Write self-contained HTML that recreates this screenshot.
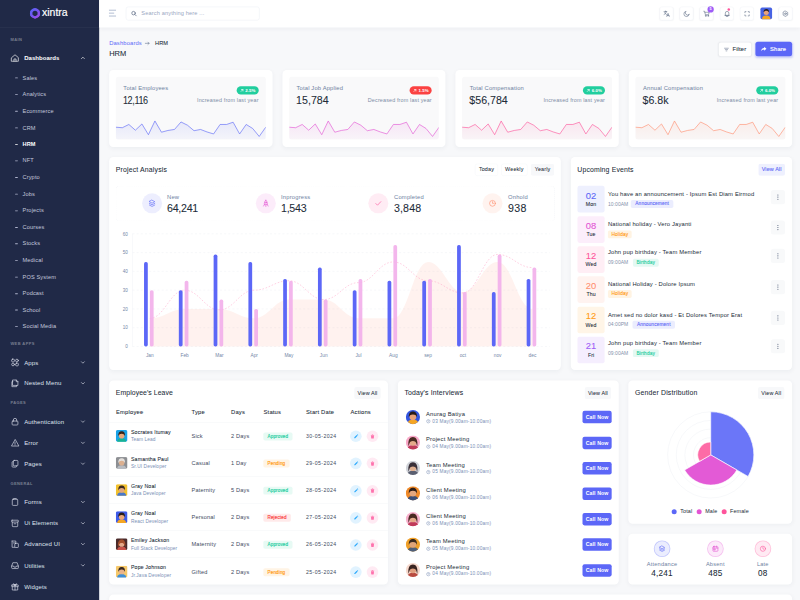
<!DOCTYPE html>
<html lang="en">
<head>
<meta charset="utf-8">
<title>HRM Dashboard</title>
<style>
*{box-sizing:border-box;margin:0;padding:0}
html,body{width:800px;height:600px;overflow:hidden;background:#f7f8fa}
body{font-family:"Liberation Sans",sans-serif;color:#212b37;line-height:1.2}
#page{position:absolute;left:0;top:0;width:1920px;height:1440px;transform:scale(0.4166667);transform-origin:0 0;background:#f7f8fa;font-size:13px;overflow:hidden}
.a{position:absolute;white-space:nowrap}
.vc{transform:translateY(-50%)}
svg{display:block;overflow:visible}
/* sidebar */
#side{position:absolute;left:0;top:0;width:238px;height:1440px;background:#202947;color:#fff}
#side .logo{position:absolute;left:0;top:0;width:238px;height:67px;border-bottom:1px solid rgba(255,255,255,.07)}
#side .cat{position:absolute;left:25px;font-size:9.5px;letter-spacing:1.05px;color:rgba(255,255,255,.4);font-weight:700;transform:translateY(-50%);white-space:nowrap}
#side .mi{position:absolute;left:0;width:238px;height:24px;transform:translateY(-50%);color:#dfe2ee;font-size:14.5px;letter-spacing:.3px}
#side .mi .ic{position:absolute;left:25px;top:1px;width:22px;height:22px}
#side .mi .tx{position:absolute;left:58px;top:4.1px;white-space:nowrap}
#side .mi.on .tx{top:3px}
#side .mi .ch{position:absolute;left:194px;top:7px;width:10px;height:10px}
#side .mi.on{color:#fff}
#side .mi.on .tx{font-weight:700;letter-spacing:.1px}
#side .si{position:absolute;left:54px;font-size:13.5px;letter-spacing:.3px;color:#c3c8dc;transform:translateY(-50%);white-space:nowrap}
#side .si:before{content:"";position:absolute;left:-18px;top:7px;width:7px;height:2px;background:#aeb3cc;border-radius:1px}
#side .si.on{color:#fff;font-weight:700}
#side .si.on:before{background:#fff}
/* header */
#head{position:absolute;left:238px;top:0;width:1682px;height:66px;background:#fff;box-shadow:0 3px 10px rgba(30,40,70,.05)}
.hbtn{position:absolute;top:16px;width:33px;height:33px;border:1px solid #f0f2f8;border-radius:6px;background:#fff;box-shadow:0 1px 3px rgba(30,40,70,.045)}
.hbtn svg{position:absolute;left:7.5px;top:7.5px;width:16px;height:16px}
/* cards */
.card{position:absolute;background:#fff;border-radius:10px;box-shadow:0 3px 10px rgba(30,40,70,.045)}
.ctitle{position:absolute;left:16px;font-size:16.5px;color:#212b37;letter-spacing:.4px;transform:translateY(-50%);white-space:nowrap;-webkit-text-stroke:.12px #212b37}
.btnl{position:absolute;height:28.5px;border:1px solid transparent;border-radius:5px;background:#f7f8fa;color:#212b37;font-size:13px;text-align:center;line-height:26.5px;letter-spacing:.3px;-webkit-text-stroke:.1px #212b37;white-space:nowrap}
.mut{color:#6e829f}
.b5{-webkit-text-stroke:.15px currentColor}

</style>
</head>
<body>
<div id="page">
<div id="side"><div class="logo">
<svg class="a" style="left:70px;top:17.500px;width:28px;height:28px" viewBox="0 0 27 27"><defs><linearGradient id="lg" x1="0" y1="0" x2="1" y2="1"><stop offset="0" stop-color="#5a63f5"/><stop offset=".55" stop-color="#7a55f0"/><stop offset="1" stop-color="#a24de6"/></linearGradient></defs><path d="M13.500 3.800 21.900 8.650v9.700L13.500 23.200 5.100 18.350v-9.700z" fill="none" stroke="url(#lg)" stroke-width="4.800" stroke-linejoin="round"/><circle cx="13.500" cy="13.500" r="9.300" fill="none" stroke="url(#lg)" stroke-width="5"/></svg>
<div class="a" style="left:100.500px;top:14.300px;font-size:26px;letter-spacing:-.1px;color:#fff;-webkit-text-stroke:.45px #fff;transform:scaleX(.97);transform-origin:0 0">xintra</div>
</div>
<div class="cat" style="top:94.1px">MAIN</div>
<div class="mi on" style="top:139.2px"><svg class="ic" viewBox="0 0 22 22" fill="none" stroke="currentColor" stroke-width="1.55" stroke-linecap="round" stroke-linejoin="round"><path d="M3 10.2 11 3.5l8 6.7V19H3z"/><path d="M8.5 19v-5.5h5V19"/></svg><span class="tx">Dashboards</span><svg class="ch" viewBox="0 0 10 10" fill="none" stroke="currentColor" stroke-width="1.5" stroke-linecap="round" stroke-linejoin="round"><path d="M1.500 6.700 5 3.200 8.500 6.700"/></svg></div>
<div class="si" style="top:187.4px">Sales</div>
<div class="si" style="top:227.2px">Analytics</div>
<div class="si" style="top:267.0px">Ecommerce</div>
<div class="si" style="top:306.8px">CRM</div>
<div class="si on" style="top:346.6px">HRM</div>
<div class="si" style="top:386.3px">NFT</div>
<div class="si" style="top:426.1px">Crypto</div>
<div class="si" style="top:465.9px">Jobs</div>
<div class="si" style="top:505.7px">Projects</div>
<div class="si" style="top:545.5px">Courses</div>
<div class="si" style="top:585.2px">Stocks</div>
<div class="si" style="top:625.0px">Medical</div>
<div class="si" style="top:664.8px">POS System</div>
<div class="si" style="top:704.6px">Podcast</div>
<div class="si" style="top:744.4px">School</div>
<div class="si" style="top:784.1px">Social Media</div>
<div class="cat" style="top:823.9px">WEB APPS</div>
<div class="mi" style="top:870.0px"><svg class="ic" viewBox="0 0 22 22" fill="none" stroke="currentColor" stroke-width="1.55" stroke-linecap="round" stroke-linejoin="round"><rect x="3" y="3" width="6.5" height="6.5" rx="2"/><rect x="12.5" y="12.5" width="6.5" height="6.5" rx="2"/><circle cx="15.7" cy="6.3" r="3.3"/><circle cx="6.3" cy="15.7" r="3.3"/></svg><span class="tx">Apps</span><svg class="ch" viewBox="0 0 10 10" fill="none" stroke="currentColor" stroke-width="1.5" stroke-linecap="round" stroke-linejoin="round"><path d="M1.500 3.200 5 6.700 8.500 3.200"/></svg></div>
<div class="mi" style="top:920.4px"><svg class="ic" viewBox="0 0 22 22" fill="none" stroke="currentColor" stroke-width="1.55" stroke-linecap="round" stroke-linejoin="round"><path d="M6 3h8l4 4v9H6z"/><path d="M6 7H3.5v12H15v-3"/><path d="M14 3v4h4"/></svg><span class="tx">Nested Menu</span><svg class="ch" viewBox="0 0 10 10" fill="none" stroke="currentColor" stroke-width="1.5" stroke-linecap="round" stroke-linejoin="round"><path d="M1.500 3.200 5 6.700 8.500 3.200"/></svg></div>
<div class="cat" style="top:966.5px">PAGES</div>
<div class="mi" style="top:1011.6px"><svg class="ic" viewBox="0 0 22 22" fill="none" stroke="currentColor" stroke-width="1.55" stroke-linecap="round" stroke-linejoin="round"><rect x="4" y="9.5" width="14" height="9.5" rx="2"/><path d="M7 9.5V7a4 4 0 0 1 8 0v2.5"/></svg><span class="tx">Authentication</span><svg class="ch" viewBox="0 0 10 10" fill="none" stroke="currentColor" stroke-width="1.5" stroke-linecap="round" stroke-linejoin="round"><path d="M1.500 3.200 5 6.700 8.500 3.200"/></svg></div>
<div class="mi" style="top:1062.5px"><svg class="ic" viewBox="0 0 22 22" fill="none" stroke="currentColor" stroke-width="1.55" stroke-linecap="round" stroke-linejoin="round"><path d="M11 3.5 2.5 18.5h17z"/><path d="M11 9v4.5M11 15.8v.4"/></svg><span class="tx">Error</span><svg class="ch" viewBox="0 0 10 10" fill="none" stroke="currentColor" stroke-width="1.5" stroke-linecap="round" stroke-linejoin="round"><path d="M1.500 3.200 5 6.700 8.500 3.200"/></svg></div>
<div class="mi" style="top:1113.1px"><svg class="ic" viewBox="0 0 22 22" fill="none" stroke="currentColor" stroke-width="1.55" stroke-linecap="round" stroke-linejoin="round"><rect x="7" y="3" width="11" height="13" rx="2"/><path d="M7 6H5.5A1.5 1.5 0 0 0 4 7.5V17.5A1.5 1.5 0 0 0 5.5 19H13A1.5 1.5 0 0 0 14.500 17.5V16"/></svg><span class="tx">Pages</span><svg class="ch" viewBox="0 0 10 10" fill="none" stroke="currentColor" stroke-width="1.5" stroke-linecap="round" stroke-linejoin="round"><path d="M1.500 3.200 5 6.700 8.500 3.200"/></svg></div>
<div class="cat" style="top:1159.7px">GENERAL</div>
<div class="mi" style="top:1204.8px"><svg class="ic" viewBox="0 0 22 22" fill="none" stroke="currentColor" stroke-width="1.55" stroke-linecap="round" stroke-linejoin="round"><rect x="4.500" y="4" width="13" height="15" rx="2"/><path d="M8 4V2.800h6V4"/></svg><span class="tx">Forms</span><svg class="ch" viewBox="0 0 10 10" fill="none" stroke="currentColor" stroke-width="1.5" stroke-linecap="round" stroke-linejoin="round"><path d="M1.500 3.200 5 6.700 8.500 3.200"/></svg></div>
<div class="mi" style="top:1255.7px"><svg class="ic" viewBox="0 0 22 22" fill="none" stroke="currentColor" stroke-width="1.55" stroke-linecap="round" stroke-linejoin="round"><rect x="3" y="3.500" width="16" height="4.500" rx="1"/><path d="M4.500 8v9.500a1.500 1.500 0 0 0 1.500 1.500h10a1.500 1.500 0 0 0 1.500-1.500V8"/><path d="M9 12h4"/></svg><span class="tx">Ui Elements</span><svg class="ch" viewBox="0 0 10 10" fill="none" stroke="currentColor" stroke-width="1.5" stroke-linecap="round" stroke-linejoin="round"><path d="M1.500 3.200 5 6.700 8.500 3.200"/></svg></div>
<div class="mi" style="top:1306.3px"><svg class="ic" viewBox="0 0 22 22" fill="none" stroke="currentColor" stroke-width="1.55" stroke-linecap="round" stroke-linejoin="round"><path d="M4 3.500h9l0 5"/><path d="M4 3.500v15h6"/><rect x="10.500" y="9" width="8.500" height="10" rx="1.500"/><path d="M7 8h3"/></svg><span class="tx">Advanced UI</span><svg class="ch" viewBox="0 0 10 10" fill="none" stroke="currentColor" stroke-width="1.5" stroke-linecap="round" stroke-linejoin="round"><path d="M1.500 3.200 5 6.700 8.500 3.200"/></svg></div>
<div class="mi" style="top:1357.2px"><svg class="ic" viewBox="0 0 22 22" fill="none" stroke="currentColor" stroke-width="1.55" stroke-linecap="round" stroke-linejoin="round"><path d="M3 12.500 5.800 4.500h10.400L19 12.500V17a1.500 1.500 0 0 1-1.500 1.500h-13A1.500 1.500 0 0 1 3 17z"/><path d="M3 12.500h4.500l1 2.500h5l1-2.500H19"/></svg><span class="tx">Utilities</span><svg class="ch" viewBox="0 0 10 10" fill="none" stroke="currentColor" stroke-width="1.5" stroke-linecap="round" stroke-linejoin="round"><path d="M1.500 3.200 5 6.700 8.500 3.200"/></svg></div>
<div class="mi" style="top:1408.3px"><svg class="ic" viewBox="0 0 22 22" fill="none" stroke="currentColor" stroke-width="1.55" stroke-linecap="round" stroke-linejoin="round"><rect x="3" y="7" width="16" height="4" rx="1"/><path d="M4.500 11v8h13v-8M11 7v12"/><path d="M11 7C9 3 5.500 3.500 6.500 5.500S11 7 11 7zM11 7c2-4 5.500-3.500 4.500-1.500S11 7 11 7z"/></svg><span class="tx">Widgets</span></div>
</div><div id="head">
<svg class="a" style="left:24px;top:23px;width:16px;height:17px" viewBox="0 0 16 17" stroke="#9aa8c4" stroke-width="1.8" stroke-linecap="round"><path d="M.5 1.500h15M.5 8.500h10.500M.5 15.500h15"/></svg>
<div class="a" style="left:64px;top:16px;width:321px;height:33px;border:1px solid #e6ebf4;border-radius:6px;background:#fff"></div>
<svg class="a" style="left:77px;top:26px;width:13px;height:13px" viewBox="0 0 13 13" fill="none" stroke="#52617c" stroke-width="1.6" stroke-linecap="round"><circle cx="5.500" cy="5.500" r="4.200"/><path d="M8.800 8.800 12 12"/></svg>
<div class="a vc" style="left:101px;top:33px;font-size:13.5px;color:#9aa7bf;letter-spacing:.35px">Search anything here ...</div>
<div class="hbtn" style="left:1345px"><svg viewBox="0 0 16 16" fill="none" stroke="#4f5f7a" stroke-width="1.25" stroke-linecap="round" stroke-linejoin="round"><path d="M1.500 3h7M5 1.500V3M7.300 3C6.800 6 4.500 8.500 1.800 9.800M3.200 5.500C4 7.500 5.500 9 7.500 9.800"/><path d="M8.300 14.500 11.300 7l3 7.500M9.300 12.300h4"/></svg></div>
<div class="hbtn" style="left:1393px"><svg viewBox="0 0 16 16" fill="none" stroke="#4f5f7a" stroke-width="1.25" stroke-linecap="round" stroke-linejoin="round"><path d="M13.800 9.800A6.300 6.300 0 1 1 6.600 2.200 5.200 5.200 0 0 0 13.800 9.800z"/></svg></div>
<div class="hbtn" style="left:1441px"><svg viewBox="0 0 16 16" fill="none" stroke="#4f5f7a" stroke-width="1.25" stroke-linecap="round" stroke-linejoin="round"><path d="M1 2h2l1.800 8.200h7.600L14 4.500H4"/><circle cx="5.800" cy="13" r="1.100"/><circle cx="11.500" cy="13" r="1.100"/></svg></div>
<div class="hbtn" style="left:1490px"><svg viewBox="0 0 16 16" fill="none" stroke="#4f5f7a" stroke-width="1.25" stroke-linecap="round" stroke-linejoin="round"><path d="M3.800 11.800V6.500a4.200 4.200 0 0 1 8.400 0v5.300z"/><path d="M2.800 11.800h10.400M6.500 14.300h3"/></svg></div>
<div class="hbtn" style="left:1538px"><svg viewBox="0 0 16 16" fill="none" stroke="#4f5f7a" stroke-width="1.25" stroke-linecap="round" stroke-linejoin="round"><path d="M2.800 5.300V2.800h2.500M10.700 2.800h2.500v2.500M13.200 10.700v2.500h-2.500M5.300 13.200H2.800v-2.500"/></svg></div>
<div class="hbtn" style="left:1630.5px"><svg viewBox="0 0 16 16" fill="none" stroke="#4f5f7a" stroke-width="1.25" stroke-linecap="round" stroke-linejoin="round"><circle cx="8" cy="8" r="2.100"/><path d="M8 1.600 13.500 4.800v6.400L8 14.400 2.500 11.200V4.800z"/></svg></div>
<div class="a" style="left:1460px;top:15px;width:15px;height:15px;border-radius:50%;background:#9e5cf7;color:#fff;font-size:9px;font-weight:700;text-align:center;line-height:15px">5</div>
<div class="a" style="left:1508px;top:20px;width:6px;height:6px;border-radius:50%;background:#fe549b"></div>
<svg class="a" style="left:1587px;top:18px;width:28px;height:28px" viewBox="0 0 28 28"><rect width="28" height="28" rx="4" fill="#4763e4"/><path d="M4 28c0-7 4-9 10-9s10 2 10 9z" fill="#f5a623"/><circle cx="14" cy="12" r="6" fill="#e9a27a"/><path d="M7.500 11.500C7 5 11 3.500 14.500 3.500S21 6 20.500 11.500C19 9 17 7.500 14 7.500S9 9 7.500 11.500z" fill="#2a1c1a"/></svg>
</div>
<div class="a vc" style="left:262px;top:104.4px;font-size:14px;letter-spacing:.3px;color:#5c67f7">Dashboards</div>
<svg class="a" style="left:348px;top:100.4px;width:11px;height:8px" viewBox="0 0 11 8" fill="none" stroke="#5a6b85" stroke-width="1.300" stroke-linecap="round" stroke-linejoin="round"><path d="M.8 4h9M7 1.200 9.800 4 7 6.800"/></svg>
<div class="a vc b5" style="left:372px;top:104.4px;font-size:13.5px;letter-spacing:.3px;color:#212b37">HRM</div>
<div class="a vc b5" style="left:262px;top:130.1px;font-size:18px;letter-spacing:0;color:#212b37">HRM</div>
<div class="a" style="left:1725px;top:101.500px;width:78px;height:33px;border-radius:6px;background:#fff;box-shadow:0 1px 4px rgba(30,40,70,.08)"><svg class="a" style="left:13px;top:12px;width:11px;height:10px" viewBox="0 0 12 10" stroke="#7a869c" stroke-width="1.6" stroke-linecap="round"><path d="M1 1.500h10M3 5h6M5 8.500h2"/></svg><div class="a vc b5" style="left:33px;top:16.500px;font-size:14px;letter-spacing:.3px;color:#212b37">Filter</div></div>
<div class="a" style="left:1813px;top:100px;width:88px;height:35px;border-radius:6px;background:#5c67f7;box-shadow:0 2px 5px rgba(92,103,247,.3)"><svg class="a" style="left:13px;top:11px;width:14px;height:13px" viewBox="0 0 14 13" fill="#fff"><path d="M8 1 13.500 6 8 11V8C4.500 8 2.300 9 .5 12 1 7.500 3.500 4.500 8 4z"/></svg><div class="a vc" style="left:35px;top:17.500px;font-size:14px;letter-spacing:.3px;color:#fff;-webkit-text-stroke:.35px #fff">Share</div></div><div class="card" style="left:262.0px;top:168px;width:391.7px;height:184.5px">
<div class="a" style="left:16px;top:15.5px;width:359.7px;height:151.0px;background:#f9f9fa;border-radius:6px;overflow:hidden">
<svg class="a" style="left:0;top:0" width="359.7" height="151.0" viewBox="0 0 359.7 151.0"><defs><linearGradient id="sg0" x1="0" y1="0" x2="0" y2="1"><stop offset="0" stop-color="#5c67f7" stop-opacity=".12"/><stop offset="1" stop-color="#5c67f7" stop-opacity=".03"/></linearGradient></defs><path d="M0.0 121.3 L15.6 122.5 L31.3 114.7 L46.9 128.5 L62.6 113.5 L78.2 139.3 L93.8 106.3 L109.5 133.3 L125.1 129.1 L140.8 126.7 L156.4 108.7 L172.0 116.5 L187.7 129.7 L203.3 126.7 L218.9 132.7 L234.6 137.5 L250.2 114.7 L265.9 114.7 L281.5 109.3 L297.1 137.5 L312.8 114.7 L328.4 124.3 L344.1 143.5 L359.7 121.3 L359.7 151.0 L0 151.0 Z" fill="url(#sg0)"/><path d="M0.0 121.3 L15.6 122.5 L31.3 114.7 L46.9 128.5 L62.6 113.5 L78.2 139.3 L93.8 106.3 L109.5 133.3 L125.1 129.1 L140.8 126.7 L156.4 108.7 L172.0 116.5 L187.7 129.7 L203.3 126.7 L218.9 132.7 L234.6 137.5 L250.2 114.7 L265.9 114.7 L281.5 109.3 L297.1 137.5 L312.8 114.7 L328.4 124.3 L344.1 143.5 L359.7 121.3" fill="none" stroke="#5c67f7" stroke-opacity=".72" stroke-width="2.1" stroke-linejoin="round"/></svg>
<div class="a vc mut" style="left:18px;top:28.19999999999999px;font-size:14px;letter-spacing:.35px">Total Employees</div>
<div class="a vc b5" style="left:17px;top:56.0px;font-size:25.5px;letter-spacing:-1px;color:#212b37;transform:translateY(-50%) scaleX(.85);transform-origin:0 50%;">12,116</div>
<div class="a" style="right:17px;top:23.400000000000006px;width:53px;height:20px;border-radius:10px;background:#21ce9e"><svg class="a" style="left:9px;top:6px;width:8px;height:8px" viewBox="0 0 8 8" stroke="#fff" stroke-width="1.5" fill="none" stroke-linecap="round" stroke-linejoin="round"><path d="M1.500 6.500 6 2M2.500 1.800H6.200V5.500"/></svg><div class="a" style="left:21px;top:4px;font-size:10.5px;font-weight:700;color:#fff;letter-spacing:.1px">2.5%</div></div>
<div class="a vc mut" style="right:17px;top:56.5px;font-size:13px;letter-spacing:.35px;color:#7d8da6">Increased from last year</div>
</div></div>
<div class="card" style="left:677.7px;top:168px;width:391.7px;height:184.5px">
<div class="a" style="left:16px;top:15.5px;width:359.7px;height:151.0px;background:#f9f9fa;border-radius:6px;overflow:hidden">
<svg class="a" style="left:0;top:0" width="359.7" height="151.0" viewBox="0 0 359.7 151.0"><defs><linearGradient id="sg1" x1="0" y1="0" x2="0" y2="1"><stop offset="0" stop-color="#e354d4" stop-opacity=".12"/><stop offset="1" stop-color="#e354d4" stop-opacity=".03"/></linearGradient></defs><path d="M0.0 121.3 L15.6 122.5 L31.3 114.7 L46.9 128.5 L62.6 113.5 L78.2 139.3 L93.8 106.3 L109.5 133.3 L125.1 129.1 L140.8 126.7 L156.4 108.7 L172.0 116.5 L187.7 129.7 L203.3 126.7 L218.9 132.7 L234.6 137.5 L250.2 114.7 L265.9 114.7 L281.5 109.3 L297.1 137.5 L312.8 114.7 L328.4 124.3 L344.1 143.5 L359.7 121.3 L359.7 151.0 L0 151.0 Z" fill="url(#sg1)"/><path d="M0.0 121.3 L15.6 122.5 L31.3 114.7 L46.9 128.5 L62.6 113.5 L78.2 139.3 L93.8 106.3 L109.5 133.3 L125.1 129.1 L140.8 126.7 L156.4 108.7 L172.0 116.5 L187.7 129.7 L203.3 126.7 L218.9 132.7 L234.6 137.5 L250.2 114.7 L265.9 114.7 L281.5 109.3 L297.1 137.5 L312.8 114.7 L328.4 124.3 L344.1 143.5 L359.7 121.3" fill="none" stroke="#e354d4" stroke-opacity=".72" stroke-width="2.1" stroke-linejoin="round"/></svg>
<div class="a vc mut" style="left:18px;top:28.19999999999999px;font-size:14px;letter-spacing:.35px">Total Job Applied</div>
<div class="a vc b5" style="left:17px;top:56.0px;font-size:25.5px;letter-spacing:0px;color:#212b37;">15,784</div>
<div class="a" style="right:17px;top:23.400000000000006px;width:53px;height:20px;border-radius:10px;background:#fb4242"><svg class="a" style="left:9px;top:6px;width:8px;height:8px" viewBox="0 0 8 8" stroke="#fff" stroke-width="1.5" fill="none" stroke-linecap="round" stroke-linejoin="round"><path d="M1.500 6.500 6 2M2.500 1.800H6.200V5.500"/></svg><div class="a" style="left:21px;top:4px;font-size:10.5px;font-weight:700;color:#fff;letter-spacing:.1px">1.5%</div></div>
<div class="a vc mut" style="right:17px;top:56.5px;font-size:13px;letter-spacing:.35px;color:#7d8da6">Decreased from last year</div>
</div></div>
<div class="card" style="left:1093.4px;top:168px;width:391.7px;height:184.5px">
<div class="a" style="left:16px;top:15.5px;width:359.7px;height:151.0px;background:#f9f9fa;border-radius:6px;overflow:hidden">
<svg class="a" style="left:0;top:0" width="359.7" height="151.0" viewBox="0 0 359.7 151.0"><defs><linearGradient id="sg2" x1="0" y1="0" x2="0" y2="1"><stop offset="0" stop-color="#fe549b" stop-opacity=".12"/><stop offset="1" stop-color="#fe549b" stop-opacity=".03"/></linearGradient></defs><path d="M0.0 121.3 L15.6 122.5 L31.3 114.7 L46.9 128.5 L62.6 113.5 L78.2 139.3 L93.8 106.3 L109.5 133.3 L125.1 129.1 L140.8 126.7 L156.4 108.7 L172.0 116.5 L187.7 129.7 L203.3 126.7 L218.9 132.7 L234.6 137.5 L250.2 114.7 L265.9 114.7 L281.5 109.3 L297.1 137.5 L312.8 114.7 L328.4 124.3 L344.1 143.5 L359.7 121.3 L359.7 151.0 L0 151.0 Z" fill="url(#sg2)"/><path d="M0.0 121.3 L15.6 122.5 L31.3 114.7 L46.9 128.5 L62.6 113.5 L78.2 139.3 L93.8 106.3 L109.5 133.3 L125.1 129.1 L140.8 126.7 L156.4 108.7 L172.0 116.5 L187.7 129.7 L203.3 126.7 L218.9 132.7 L234.6 137.5 L250.2 114.7 L265.9 114.7 L281.5 109.3 L297.1 137.5 L312.8 114.7 L328.4 124.3 L344.1 143.5 L359.7 121.3" fill="none" stroke="#fe549b" stroke-opacity=".72" stroke-width="2.1" stroke-linejoin="round"/></svg>
<div class="a vc mut" style="left:18px;top:28.19999999999999px;font-size:14px;letter-spacing:.35px">Total Compensation</div>
<div class="a vc b5" style="left:17px;top:56.0px;font-size:25.5px;letter-spacing:0px;color:#212b37;">$56,784</div>
<div class="a" style="right:17px;top:23.400000000000006px;width:53px;height:20px;border-radius:10px;background:#21ce9e"><svg class="a" style="left:9px;top:6px;width:8px;height:8px" viewBox="0 0 8 8" stroke="#fff" stroke-width="1.5" fill="none" stroke-linecap="round" stroke-linejoin="round"><path d="M1.500 6.500 6 2M2.500 1.800H6.200V5.500"/></svg><div class="a" style="left:21px;top:4px;font-size:10.5px;font-weight:700;color:#fff;letter-spacing:.1px">6.0%</div></div>
<div class="a vc mut" style="right:17px;top:56.5px;font-size:13px;letter-spacing:.35px;color:#7d8da6">Increased from last year</div>
</div></div>
<div class="card" style="left:1509.1px;top:168px;width:391.7px;height:184.5px">
<div class="a" style="left:16px;top:15.5px;width:359.7px;height:151.0px;background:#f9f9fa;border-radius:6px;overflow:hidden">
<svg class="a" style="left:0;top:0" width="359.7" height="151.0" viewBox="0 0 359.7 151.0"><defs><linearGradient id="sg3" x1="0" y1="0" x2="0" y2="1"><stop offset="0" stop-color="#ff8e6f" stop-opacity=".12"/><stop offset="1" stop-color="#ff8e6f" stop-opacity=".03"/></linearGradient></defs><path d="M0.0 121.3 L15.6 122.5 L31.3 114.7 L46.9 128.5 L62.6 113.5 L78.2 139.3 L93.8 106.3 L109.5 133.3 L125.1 129.1 L140.8 126.7 L156.4 108.7 L172.0 116.5 L187.7 129.7 L203.3 126.7 L218.9 132.7 L234.6 137.5 L250.2 114.7 L265.9 114.7 L281.5 109.3 L297.1 137.5 L312.8 114.7 L328.4 124.3 L344.1 143.5 L359.7 121.3 L359.7 151.0 L0 151.0 Z" fill="url(#sg3)"/><path d="M0.0 121.3 L15.6 122.5 L31.3 114.7 L46.9 128.5 L62.6 113.5 L78.2 139.3 L93.8 106.3 L109.5 133.3 L125.1 129.1 L140.8 126.7 L156.4 108.7 L172.0 116.5 L187.7 129.7 L203.3 126.7 L218.9 132.7 L234.6 137.5 L250.2 114.7 L265.9 114.7 L281.5 109.3 L297.1 137.5 L312.8 114.7 L328.4 124.3 L344.1 143.5 L359.7 121.3" fill="none" stroke="#ff8e6f" stroke-opacity=".72" stroke-width="2.1" stroke-linejoin="round"/></svg>
<div class="a vc mut" style="left:18px;top:28.19999999999999px;font-size:14px;letter-spacing:.35px">Annual Compensation</div>
<div class="a vc b5" style="left:17px;top:56.0px;font-size:25.5px;letter-spacing:0px;color:#212b37;">$6.8k</div>
<div class="a" style="right:17px;top:23.400000000000006px;width:53px;height:20px;border-radius:10px;background:#21ce9e"><svg class="a" style="left:9px;top:6px;width:8px;height:8px" viewBox="0 0 8 8" stroke="#fff" stroke-width="1.5" fill="none" stroke-linecap="round" stroke-linejoin="round"><path d="M1.500 6.500 6 2M2.500 1.800H6.200V5.500"/></svg><div class="a" style="left:21px;top:4px;font-size:10.5px;font-weight:700;color:#fff;letter-spacing:.1px">6.0%</div></div>
<div class="a vc mut" style="right:17px;top:56.5px;font-size:13px;letter-spacing:.35px;color:#7d8da6">Increased from last year</div>
</div></div><div class="card" style="left:262px;top:377px;width:1083.5px;height:511px">
<div class="ctitle" style="top:29.80000000000001px">Project Analysis</div>
<div class="btnl" style="left:878.2px;top:16.100000000000023px;width:54.5px;background:#fff;border:1px solid #f3f5f8;">Today</div>
<div class="btnl" style="left:941.0999999999999px;top:16.100000000000023px;width:62.6px;background:#fff;border:1px solid #f3f5f8;">Weekly</div>
<div class="btnl" style="left:1011.9000000000001px;top:16.100000000000023px;width:56.2px;background:#f7f8fa;">Yearly</div>
<div class="a" style="left:16.399999999999977px;top:68.89999999999998px;width:1052.4px;height:85.2px;border:1px dashed #eef0f4;border-radius:8px"></div>
<div class="a" style="left:78.80000000000001px;top:86.89999999999998px;width:48px;height:48px;border-radius:50%;background:rgba(92,103,247,0.11)"><svg class="a" style="left:14px;top:14px;width:20px;height:20px" viewBox="0 0 20 20" fill="none" stroke="#5c67f7" stroke-width="1.5" stroke-linecap="round" stroke-linejoin="round"><path d="M10 2.500 16.500 6 10 9.500 3.500 6z"/><path d="M3.500 10 10 13.500 16.500 10"/><path d="M3.500 14 10 17.500 16.500 14"/></svg></div>
<div class="a vc mut" style="left:138.8px;top:96.30000000000001px;font-size:14px;letter-spacing:.45px">New</div>
<div class="a vc b5" style="left:138.8px;top:122.89999999999998px;font-size:25.5px;letter-spacing:-0.6px;color:#212b37">64,241</div>
<div class="a" style="left:352.4px;top:86.89999999999998px;width:48px;height:48px;border-radius:50%;background:rgba(227,84,212,0.11)"><svg class="a" style="left:14px;top:14px;width:20px;height:20px" viewBox="0 0 20 20" fill="none" stroke="#e354d4" stroke-width="1.5" stroke-linecap="round" stroke-linejoin="round"><path d="M10 2.500c3 2.500 4 6 3.500 10.500h-7C6 8.500 7 5 10 2.500z"/><circle cx="10" cy="8.500" r="1.300"/><path d="M6.500 13 4.500 16.500M13.500 13l2 3.500M10 15v2.500"/></svg></div>
<div class="a vc mut" style="left:412.4px;top:96.30000000000001px;font-size:14px;letter-spacing:.45px">Inprogress</div>
<div class="a vc b5" style="left:412.4px;top:122.89999999999998px;font-size:25.5px;letter-spacing:-0.6px;color:#212b37">1,543</div>
<div class="a" style="left:622.4px;top:86.89999999999998px;width:48px;height:48px;border-radius:50%;background:rgba(254,84,155,0.11)"><svg class="a" style="left:14px;top:14px;width:20px;height:20px" viewBox="0 0 20 20" fill="none" stroke="#fe549b" stroke-width="1.5" stroke-linecap="round" stroke-linejoin="round"><path d="M4 10.500 8 14.500 16 6"/></svg></div>
<div class="a vc mut" style="left:683.6px;top:96.30000000000001px;font-size:14px;letter-spacing:.45px">Completed</div>
<div class="a vc b5" style="left:683.6px;top:122.89999999999998px;font-size:25.5px;letter-spacing:0.3px;color:#212b37">3,848</div>
<div class="a" style="left:896.0px;top:86.89999999999998px;width:48px;height:48px;border-radius:50%;background:rgba(255,142,111,0.11)"><svg class="a" style="left:14px;top:14px;width:20px;height:20px" viewBox="0 0 20 20" fill="none" stroke="#ff8e6f" stroke-width="1.5" stroke-linecap="round" stroke-linejoin="round"><circle cx="10" cy="10" r="7"/><path d="M10 6v4h3.200"/></svg></div>
<div class="a vc mut" style="left:957.2px;top:96.30000000000001px;font-size:14px;letter-spacing:.45px">Onhold</div>
<div class="a vc b5" style="left:957.2px;top:122.89999999999998px;font-size:25.5px;letter-spacing:0.9px;color:#212b37">938</div>
<svg class="a" style="left:0;top:0" width="1083.5" height="511" viewBox="0 0 1083.5 511"><line x1="55.8" x2="1057.5" y1="454.6" y2="454.6" stroke="#f0f2f6" stroke-width="1.3" stroke-dasharray="5 5"/><line x1="55.8" x2="1057.5" y1="409.5" y2="409.5" stroke="#f0f2f6" stroke-width="1.3" stroke-dasharray="5 5"/><line x1="55.8" x2="1057.5" y1="364.4" y2="364.4" stroke="#f0f2f6" stroke-width="1.3" stroke-dasharray="5 5"/><line x1="55.8" x2="1057.5" y1="319.4" y2="319.4" stroke="#f0f2f6" stroke-width="1.3" stroke-dasharray="5 5"/><line x1="55.8" x2="1057.5" y1="274.3" y2="274.3" stroke="#f0f2f6" stroke-width="1.3" stroke-dasharray="5 5"/><line x1="55.8" x2="1057.5" y1="229.2" y2="229.2" stroke="#f0f2f6" stroke-width="1.3" stroke-dasharray="5 5"/><line x1="55.8" x2="1057.5" y1="184.1" y2="184.1" stroke="#f0f2f6" stroke-width="1.3" stroke-dasharray="5 5"/><line x1="55.8" x2="55.8" y1="184.1" y2="454.6" stroke="#f0f2f6" stroke-width="1.3"/><path d="M97.5 387.0 C132.6 387.0 146.0 364.4 181.0 364.4 C216.1 364.4 229.4 364.4 264.5 364.4 C299.5 364.4 312.9 387.0 348.0 387.0 C383.0 387.0 396.4 341.9 431.4 341.9 C466.5 341.9 479.9 341.9 514.9 341.9 C550.0 341.9 563.3 387.0 598.4 387.0 C633.4 387.0 646.8 387.0 681.9 387.0 C716.9 387.0 730.3 251.7 765.3 251.7 C800.4 251.7 813.8 323.9 848.8 323.9 C883.9 323.9 897.2 251.7 932.3 251.7 C967.3 251.7 980.7 364.4 1015.8 364.4 L1015.8 454.6 L97.5 454.6 Z" fill="#ff8e6f" fill-opacity=".115"/><path d="M97.5 387.0 C132.6 387.0 146.0 319.4 181.0 319.4 C216.1 319.4 229.4 366.7 264.5 366.7 C299.5 366.7 312.9 319.4 348.0 319.4 C383.0 319.4 396.4 296.8 431.4 296.8 C466.5 296.8 479.9 341.9 514.9 341.9 C550.0 341.9 563.3 301.3 598.4 301.3 C633.4 301.3 646.8 251.7 681.9 251.7 C716.9 251.7 730.3 296.8 765.3 296.8 C800.4 296.8 813.8 326.1 848.8 326.1 C883.9 326.1 897.2 233.7 932.3 233.7 C967.3 233.7 980.7 265.2 1015.8 265.2" fill="none" stroke="#fe8fbc" stroke-opacity=".55" stroke-width="1.8" stroke-dasharray="4 4"/><rect x="83.7" y="251.7" width="9" height="202.9" rx="4" fill="#5c67f7"/><rect x="97.7" y="319.4" width="9" height="135.2" rx="4" fill="#f2aeea" fill-opacity=".9"/><rect x="167.2" y="319.4" width="9" height="135.2" rx="4" fill="#5c67f7"/><rect x="181.2" y="296.8" width="9" height="157.8" rx="4" fill="#f2aeea" fill-opacity=".9"/><rect x="250.7" y="233.7" width="9" height="220.9" rx="4" fill="#5c67f7"/><rect x="264.7" y="341.9" width="9" height="112.7" rx="4" fill="#f2aeea" fill-opacity=".9"/><rect x="334.2" y="251.7" width="9" height="202.9" rx="4" fill="#5c67f7"/><rect x="348.2" y="364.4" width="9" height="90.2" rx="4" fill="#f2aeea" fill-opacity=".9"/><rect x="417.6" y="292.3" width="9" height="162.3" rx="4" fill="#5c67f7"/><rect x="431.6" y="296.8" width="9" height="157.8" rx="4" fill="#f2aeea" fill-opacity=".9"/><rect x="501.1" y="265.2" width="9" height="189.4" rx="4" fill="#5c67f7"/><rect x="515.1" y="341.9" width="9" height="112.7" rx="4" fill="#f2aeea" fill-opacity=".9"/><rect x="584.6" y="319.4" width="9" height="135.2" rx="4" fill="#5c67f7"/><rect x="598.6" y="292.3" width="9" height="162.3" rx="4" fill="#f2aeea" fill-opacity=".9"/><rect x="668.1" y="296.8" width="9" height="157.8" rx="4" fill="#5c67f7"/><rect x="682.1" y="211.2" width="9" height="243.4" rx="4" fill="#f2aeea" fill-opacity=".9"/><rect x="751.5" y="296.8" width="9" height="157.8" rx="4" fill="#5c67f7"/><rect x="765.5" y="292.3" width="9" height="162.3" rx="4" fill="#f2aeea" fill-opacity=".9"/><rect x="835.0" y="211.2" width="9" height="243.4" rx="4" fill="#5c67f7"/><rect x="849.0" y="323.9" width="9" height="130.7" rx="4" fill="#f2aeea" fill-opacity=".9"/><rect x="918.5" y="323.9" width="9" height="130.7" rx="4" fill="#5c67f7"/><rect x="932.5" y="233.7" width="9" height="220.9" rx="4" fill="#f2aeea" fill-opacity=".9"/><rect x="1002.0" y="292.3" width="9" height="162.3" rx="4" fill="#5c67f7"/><rect x="1016.0" y="265.2" width="9" height="189.4" rx="4" fill="#f2aeea" fill-opacity=".9"/></svg>
<div class="a vc" style="right:1038.8px;top:455.1px;font-size:11px;color:#7387a8">0</div>
<div class="a vc" style="right:1038.8px;top:410.0px;font-size:11px;color:#7387a8">10</div>
<div class="a vc" style="right:1038.8px;top:364.9px;font-size:11px;color:#7387a8">20</div>
<div class="a vc" style="right:1038.8px;top:319.9px;font-size:11px;color:#7387a8">30</div>
<div class="a vc" style="right:1038.8px;top:274.8px;font-size:11px;color:#7387a8">40</div>
<div class="a vc" style="right:1038.8px;top:229.7px;font-size:11px;color:#7387a8">50</div>
<div class="a vc" style="right:1038.8px;top:184.6px;font-size:11px;color:#7387a8">60</div>
<div class="a vc" style="left:77.5px;width:40px;text-align:center;top:475.70000000000005px;font-size:11.5px;color:#7387a8">Jan</div>
<div class="a vc" style="left:161.0px;width:40px;text-align:center;top:475.70000000000005px;font-size:11.5px;color:#7387a8">Feb</div>
<div class="a vc" style="left:244.5px;width:40px;text-align:center;top:475.70000000000005px;font-size:11.5px;color:#7387a8">Mar</div>
<div class="a vc" style="left:328.0px;width:40px;text-align:center;top:475.70000000000005px;font-size:11.5px;color:#7387a8">Apr</div>
<div class="a vc" style="left:411.4px;width:40px;text-align:center;top:475.70000000000005px;font-size:11.5px;color:#7387a8">May</div>
<div class="a vc" style="left:494.9px;width:40px;text-align:center;top:475.70000000000005px;font-size:11.5px;color:#7387a8">Jun</div>
<div class="a vc" style="left:578.4px;width:40px;text-align:center;top:475.70000000000005px;font-size:11.5px;color:#7387a8">Jul</div>
<div class="a vc" style="left:661.9px;width:40px;text-align:center;top:475.70000000000005px;font-size:11.5px;color:#7387a8">Aug</div>
<div class="a vc" style="left:745.3px;width:40px;text-align:center;top:475.70000000000005px;font-size:11.5px;color:#7387a8">sep</div>
<div class="a vc" style="left:828.8px;width:40px;text-align:center;top:475.70000000000005px;font-size:11.5px;color:#7387a8">oct</div>
<div class="a vc" style="left:912.3px;width:40px;text-align:center;top:475.70000000000005px;font-size:11.5px;color:#7387a8">nov</div>
<div class="a vc" style="left:995.8px;width:40px;text-align:center;top:475.70000000000005px;font-size:11.5px;color:#7387a8">dec</div>
</div>
<div class="card" style="left:1369.5px;top:377px;width:531.3px;height:511px">
<div class="ctitle" style="top:29.80000000000001px">Upcoming Events</div>
<div class="btnl" style="left:450.20000000000005px;top:16.100000000000023px;width:64.3px;background:rgba(92,103,247,.1);color:#5c67f7;-webkit-text-stroke:.25px #5c67f7">View All</div>
<div class="a" style="left:16.5px;top:69.4px;width:65px;height:64px;border-radius:5px;background:rgba(92,103,247,0.1)"><div class="a" style="left:0;width:65px;text-align:center;top:9.5px;font-size:22.5px;color:#5c67f7;letter-spacing:.3px;-webkit-text-stroke:.2px #5c67f7">02</div><div class="a b5" style="left:0;width:65px;text-align:center;top:37px;font-size:12.5px;color:#212b37;letter-spacing:.2px">Mon</div></div>
<div class="a vc" style="left:89.70000000000005px;top:88.9px;font-size:14px;letter-spacing:.37px;color:#212b37">You have an announcement - Ipsum Est Diam Eirmod</div>
<div class="a vc mut" style="left:89.70000000000005px;top:112.9px;font-size:12px;letter-spacing:.1px;color:#8593ab">10:00AM</div>
<div class="a" style="left:144.70000000000005px;top:103.4px;width:102px;height:19px;border-radius:4px;background:rgba(92,103,247,0.12);color:#5c67f7;font-size:11.5px;text-align:center;line-height:19px;letter-spacing:.3px;-webkit-text-stroke:.25px #5c67f7">Announcement</div>
<div class="a" style="left:480.9000000000001px;top:79.4px;width:34px;height:34px;border-radius:6px;background:#f8f9fa"><svg class="a" style="left:15px;top:10px;width:4px;height:14px" viewBox="0 0 4 14" fill="#4a5873"><circle cx="2" cy="2" r="1.300"/><circle cx="2" cy="7" r="1.300"/><circle cx="2" cy="12" r="1.300"/></svg></div>
<div class="a" style="left:16.5px;top:141.7px;width:65px;height:64px;border-radius:5px;background:rgba(227,84,212,0.1)"><div class="a" style="left:0;width:65px;text-align:center;top:9.5px;font-size:22.5px;color:#e354d4;letter-spacing:.3px;-webkit-text-stroke:.2px #e354d4">08</div><div class="a b5" style="left:0;width:65px;text-align:center;top:37px;font-size:12.5px;color:#212b37;letter-spacing:.2px">Tue</div></div>
<div class="a vc" style="left:89.70000000000005px;top:161.2px;font-size:14px;letter-spacing:.37px;color:#212b37">National holiday - Vero Jayanti</div>
<div class="a" style="left:89.70000000000005px;top:175.7px;width:57px;height:19px;border-radius:4px;background:rgba(255,154,19,0.12);color:#ff9a13;font-size:11.5px;text-align:center;line-height:19px;letter-spacing:.3px;-webkit-text-stroke:.25px #ff9a13">Holiday</div>
<div class="a" style="left:480.9000000000001px;top:151.7px;width:34px;height:34px;border-radius:6px;background:#f8f9fa"><svg class="a" style="left:15px;top:10px;width:4px;height:14px" viewBox="0 0 4 14" fill="#4a5873"><circle cx="2" cy="2" r="1.300"/><circle cx="2" cy="7" r="1.300"/><circle cx="2" cy="12" r="1.300"/></svg></div>
<div class="a" style="left:16.5px;top:214.0px;width:65px;height:64px;border-radius:5px;background:rgba(254,84,155,0.1)"><div class="a" style="left:0;width:65px;text-align:center;top:9.5px;font-size:22.5px;color:#fe549b;letter-spacing:.3px;-webkit-text-stroke:.2px #fe549b">12</div><div class="a b5" style="left:0;width:65px;text-align:center;top:37px;font-size:12.5px;color:#212b37;letter-spacing:.2px">Wed</div></div>
<div class="a vc" style="left:89.70000000000005px;top:229.3px;font-size:14px;letter-spacing:.37px;color:#212b37">John pup birthday - Team Member</div>
<div class="a vc mut" style="left:89.70000000000005px;top:253.3px;font-size:12px;letter-spacing:.1px;color:#8593ab">09:00AM</div>
<div class="a" style="left:149.20000000000005px;top:243.8px;width:62px;height:19px;border-radius:4px;background:rgba(33,206,158,0.12);color:#21ce9e;font-size:11.5px;text-align:center;line-height:19px;letter-spacing:.3px;-webkit-text-stroke:.25px #21ce9e">Birthday</div>
<div class="a" style="left:480.9000000000001px;top:219.8px;width:34px;height:34px;border-radius:6px;background:#f8f9fa"><svg class="a" style="left:15px;top:10px;width:4px;height:14px" viewBox="0 0 4 14" fill="#4a5873"><circle cx="2" cy="2" r="1.300"/><circle cx="2" cy="7" r="1.300"/><circle cx="2" cy="12" r="1.300"/></svg></div>
<div class="a" style="left:16.5px;top:286.3px;width:65px;height:64px;border-radius:5px;background:rgba(255,142,111,0.1)"><div class="a" style="left:0;width:65px;text-align:center;top:9.5px;font-size:22.5px;color:#ff8e6f;letter-spacing:.3px;-webkit-text-stroke:.2px #ff8e6f">20</div><div class="a b5" style="left:0;width:65px;text-align:center;top:37px;font-size:12.5px;color:#212b37;letter-spacing:.2px">Thu</div></div>
<div class="a vc" style="left:89.70000000000005px;top:304.6px;font-size:14px;letter-spacing:.37px;color:#212b37">National Holiday - Dolore Ipsum</div>
<div class="a" style="left:89.70000000000005px;top:319.1px;width:57px;height:19px;border-radius:4px;background:rgba(255,154,19,0.12);color:#ff9a13;font-size:11.5px;text-align:center;line-height:19px;letter-spacing:.3px;-webkit-text-stroke:.25px #ff9a13">Holiday</div>
<div class="a" style="left:480.9000000000001px;top:295.1px;width:34px;height:34px;border-radius:6px;background:#f8f9fa"><svg class="a" style="left:15px;top:10px;width:4px;height:14px" viewBox="0 0 4 14" fill="#4a5873"><circle cx="2" cy="2" r="1.300"/><circle cx="2" cy="7" r="1.300"/><circle cx="2" cy="12" r="1.300"/></svg></div>
<div class="a" style="left:16.5px;top:358.6px;width:65px;height:64px;border-radius:5px;background:rgba(255,154,19,0.1)"><div class="a" style="left:0;width:65px;text-align:center;top:9.5px;font-size:22.5px;color:#ff9a13;letter-spacing:.3px;-webkit-text-stroke:.2px #ff9a13">12</div><div class="a b5" style="left:0;width:65px;text-align:center;top:37px;font-size:12.5px;color:#212b37;letter-spacing:.2px">Wed</div></div>
<div class="a vc" style="left:89.70000000000005px;top:378.1px;font-size:14px;letter-spacing:.37px;color:#212b37">Amet sed no dolor kasd - Et Dolores Tempor Erat</div>
<div class="a vc mut" style="left:89.70000000000005px;top:402.1px;font-size:12px;letter-spacing:.1px;color:#8593ab">04:00PM</div>
<div class="a" style="left:148.50000000000006px;top:392.6px;width:102px;height:19px;border-radius:4px;background:rgba(92,103,247,0.12);color:#5c67f7;font-size:11.5px;text-align:center;line-height:19px;letter-spacing:.3px;-webkit-text-stroke:.25px #5c67f7">Announcement</div>
<div class="a" style="left:480.9000000000001px;top:368.6px;width:34px;height:34px;border-radius:6px;background:#f8f9fa"><svg class="a" style="left:15px;top:10px;width:4px;height:14px" viewBox="0 0 4 14" fill="#4a5873"><circle cx="2" cy="2" r="1.300"/><circle cx="2" cy="7" r="1.300"/><circle cx="2" cy="12" r="1.300"/></svg></div>
<div class="a" style="left:16.5px;top:430.9px;width:65px;height:64px;border-radius:5px;background:rgba(158,92,247,0.1)"><div class="a" style="left:0;width:65px;text-align:center;top:9.5px;font-size:22.5px;color:#9e5cf7;letter-spacing:.3px;-webkit-text-stroke:.2px #9e5cf7">21</div><div class="a b5" style="left:0;width:65px;text-align:center;top:37px;font-size:12.5px;color:#212b37;letter-spacing:.2px">Fri</div></div>
<div class="a vc" style="left:89.70000000000005px;top:446.2px;font-size:14px;letter-spacing:.37px;color:#212b37">John pup birthday - Team Member</div>
<div class="a vc mut" style="left:89.70000000000005px;top:470.2px;font-size:12px;letter-spacing:.1px;color:#8593ab">09:00AM</div>
<div class="a" style="left:149.20000000000005px;top:460.7px;width:62px;height:19px;border-radius:4px;background:rgba(33,206,158,0.12);color:#21ce9e;font-size:11.5px;text-align:center;line-height:19px;letter-spacing:.3px;-webkit-text-stroke:.25px #21ce9e">Birthday</div>
<div class="a" style="left:480.9000000000001px;top:436.7px;width:34px;height:34px;border-radius:6px;background:#f8f9fa"><svg class="a" style="left:15px;top:10px;width:4px;height:14px" viewBox="0 0 4 14" fill="#4a5873"><circle cx="2" cy="2" r="1.300"/><circle cx="2" cy="7" r="1.300"/><circle cx="2" cy="12" r="1.300"/></svg></div>
</div><div class="card" style="left:262px;top:913px;width:668.5px;height:489.5px">
<div class="ctitle" style="top:30.200000000000045px;letter-spacing:.15px">Employee's Leave</div>
<div class="btnl" style="left:587.6px;top:16.299999999999955px;width:64.8px">View All</div>
<div class="a vc" style="left:16.399999999999977px;top:75.79999999999995px;font-size:14px;letter-spacing:.45px;color:#212b37;-webkit-text-stroke:.15px #212b37">Employee</div>
<div class="a vc" style="left:197.60000000000002px;top:75.79999999999995px;font-size:14px;letter-spacing:.45px;color:#212b37;-webkit-text-stroke:.15px #212b37">Type</div>
<div class="a vc" style="left:292.4px;top:75.79999999999995px;font-size:14px;letter-spacing:.45px;color:#212b37;-webkit-text-stroke:.15px #212b37">Days</div>
<div class="a vc" style="left:370.4px;top:75.79999999999995px;font-size:14px;letter-spacing:.45px;color:#212b37;-webkit-text-stroke:.15px #212b37">Status</div>
<div class="a vc" style="left:472.4px;top:75.79999999999995px;font-size:14px;letter-spacing:.45px;color:#212b37;-webkit-text-stroke:.15px #212b37">Start Date</div>
<div class="a vc" style="left:579.2px;top:75.79999999999995px;font-size:14px;letter-spacing:.45px;color:#212b37;-webkit-text-stroke:.15px #212b37">Actions</div>
<div class="a" style="left:0;top:99.6px;width:668.5px;height:1px;background:#f1f3f6"></div>
<div class="a" style="left:15.899999999999977px;top:118.7px;width:28px;height:28px"><svg width="28" height="28" viewBox="0 0 28 28"><defs><clipPath id="c1ba3e8280"><rect width="28" height="28" rx="4.0"/></clipPath></defs><g clip-path="url(#c1ba3e8280)"><rect width="28" height="28" fill="#1ba3e8"/><path d="M3 29c0-7 4.500-9.500 11-9.500S25 22 25 29z" fill="#19b394"/><circle cx="14" cy="13.500" r="6.800" fill="#e8a87c"/><path d="M6 15C5 6 9.500 3 14 3s9 3 8 12c-1-3.500-3-6-8-6s-7 2.500-8 6z" fill="#3a2418"/></g></svg></div>
<div class="a vc" style="left:52.39999999999998px;top:123.7px;font-size:12.5px;letter-spacing:.35px;color:#212b37;-webkit-text-stroke:.15px #212b37">Socrates Itumay</div>
<div class="a vc" style="left:52.39999999999998px;top:142.2px;font-size:11.5px;letter-spacing:.25px;color:#7a8fb5">Team Lead</div>
<div class="a vc" style="left:197.60000000000002px;top:133.7px;font-size:13.5px;letter-spacing:.4px;color:#3d4a60">Sick</div>
<div class="a vc" style="left:292.4px;top:133.7px;font-size:13.5px;letter-spacing:.4px;color:#3d4a60">2 Days</div>
<div class="a" style="left:369.9px;top:124.7px;width:70px;height:19px;border-radius:4px;background:rgba(33,206,158,0.11);color:#21ce9e;font-size:11px;text-align:center;line-height:19px;letter-spacing:.3px;-webkit-text-stroke:.35px #21ce9e">Approved</div>
<div class="a vc" style="left:472.4px;top:133.7px;font-size:12.5px;letter-spacing:.95px;color:#3d4a60">30-05-2024</div>
<div class="a" style="left:578.4px;top:120.2px;width:28px;height:28px;border-radius:50%;background:rgba(12,156,252,.12)"><svg class="a" style="left:8.500px;top:8.500px;width:11px;height:11px" viewBox="0 0 12 12" fill="#0c9cfc" fill-opacity=".85"><path d="M1.500 8.200 7.600 2.100l2.300 2.300L3.800 10.500H1.500zM8.300 1.400l.800-.8a.8.800 0 0 1 1.100 0l1.200 1.200a.8.800 0 0 1 0 1.100l-.8.8z"/></svg></div>
<div class="a" style="left:617.5px;top:120.2px;width:28px;height:28px;border-radius:50%;background:rgba(254,84,155,.12)"><svg class="a" style="left:9px;top:8.500px;width:10px;height:11px" viewBox="0 0 11 12" fill="#fe549b" fill-opacity=".8"><path d="M1.500 3.500h8l-.6 7.300a1 1 0 0 1-1 .9H3.100a1 1 0 0 1-1-.9zM.8 2h9.400v.9H.8zM3.800.6h3.400V2H3.800z"/></svg></div>
<div class="a" style="left:0;top:164.7px;width:668.5px;height:1px;background:#f1f3f6"></div>
<div class="a" style="left:15.899999999999977px;top:183.8px;width:28px;height:28px"><svg width="28" height="28" viewBox="0 0 28 28"><defs><clipPath id="c8d8f93280"><rect width="28" height="28" rx="4.0"/></clipPath></defs><g clip-path="url(#c8d8f93280)"><rect width="28" height="28" fill="#8d8f93"/><path d="M3 29c0-7 4.500-9.500 11-9.500S25 22 25 29z" fill="#b8bcc2"/><circle cx="14" cy="13.500" r="6.800" fill="#dcb090"/><path d="M6 15C5 6 9.500 3 14 3s9 3 8 12c-1-3.500-3-6-8-6s-7 2.500-8 6z" fill="#e4e0dc"/></g></svg></div>
<div class="a vc" style="left:52.39999999999998px;top:188.8px;font-size:12.5px;letter-spacing:.35px;color:#212b37;-webkit-text-stroke:.15px #212b37">Samantha Paul</div>
<div class="a vc" style="left:52.39999999999998px;top:207.3px;font-size:11.5px;letter-spacing:.25px;color:#7a8fb5">Sr.UI Developer</div>
<div class="a vc" style="left:197.60000000000002px;top:198.8px;font-size:13.5px;letter-spacing:.4px;color:#3d4a60">Casual</div>
<div class="a vc" style="left:292.4px;top:198.8px;font-size:13.5px;letter-spacing:.4px;color:#3d4a60">1 Day</div>
<div class="a" style="left:369.9px;top:189.8px;width:63px;height:19px;border-radius:4px;background:rgba(255,154,19,0.11);color:#ff9a13;font-size:11px;text-align:center;line-height:19px;letter-spacing:.3px;-webkit-text-stroke:.35px #ff9a13">Pending</div>
<div class="a vc" style="left:472.4px;top:198.8px;font-size:12.5px;letter-spacing:.95px;color:#3d4a60">29-05-2024</div>
<div class="a" style="left:578.4px;top:185.3px;width:28px;height:28px;border-radius:50%;background:rgba(12,156,252,.12)"><svg class="a" style="left:8.500px;top:8.500px;width:11px;height:11px" viewBox="0 0 12 12" fill="#0c9cfc" fill-opacity=".85"><path d="M1.500 8.200 7.600 2.100l2.300 2.300L3.800 10.500H1.500zM8.300 1.400l.800-.8a.8.800 0 0 1 1.100 0l1.200 1.200a.8.800 0 0 1 0 1.100l-.8.8z"/></svg></div>
<div class="a" style="left:617.5px;top:185.3px;width:28px;height:28px;border-radius:50%;background:rgba(254,84,155,.12)"><svg class="a" style="left:9px;top:8.500px;width:10px;height:11px" viewBox="0 0 11 12" fill="#fe549b" fill-opacity=".8"><path d="M1.500 3.500h8l-.6 7.300a1 1 0 0 1-1 .9H3.100a1 1 0 0 1-1-.9zM.8 2h9.400v.9H.8zM3.800.6h3.400V2H3.800z"/></svg></div>
<div class="a" style="left:0;top:229.9px;width:668.5px;height:1px;background:#f1f3f6"></div>
<div class="a" style="left:15.899999999999977px;top:249.0px;width:28px;height:28px"><svg width="28" height="28" viewBox="0 0 28 28"><defs><clipPath id="cf2c02e280"><rect width="28" height="28" rx="4.0"/></clipPath></defs><g clip-path="url(#cf2c02e280)"><rect width="28" height="28" fill="#f2c02e"/><path d="M3 29c0-7 4.500-9.500 11-9.500S25 22 25 29z" fill="#4a78c8"/><circle cx="14" cy="13.500" r="6.800" fill="#e3a77f"/><path d="M6 15C5 6 9.500 3 14 3s9 3 8 12c-1-3.500-3-6-8-6s-7 2.500-8 6z" fill="#3b2a20"/></g></svg></div>
<div class="a vc" style="left:52.39999999999998px;top:254.0px;font-size:12.5px;letter-spacing:.35px;color:#212b37;-webkit-text-stroke:.15px #212b37">Gray Noal</div>
<div class="a vc" style="left:52.39999999999998px;top:272.5px;font-size:11.5px;letter-spacing:.25px;color:#7a8fb5">Java Developer</div>
<div class="a vc" style="left:197.60000000000002px;top:264.0px;font-size:13.5px;letter-spacing:.4px;color:#3d4a60">Paternity</div>
<div class="a vc" style="left:292.4px;top:264.0px;font-size:13.5px;letter-spacing:.4px;color:#3d4a60">5 Days</div>
<div class="a" style="left:369.9px;top:255.0px;width:70px;height:19px;border-radius:4px;background:rgba(33,206,158,0.11);color:#21ce9e;font-size:11px;text-align:center;line-height:19px;letter-spacing:.3px;-webkit-text-stroke:.35px #21ce9e">Approved</div>
<div class="a vc" style="left:472.4px;top:264.0px;font-size:12.5px;letter-spacing:.95px;color:#3d4a60">28-05-2024</div>
<div class="a" style="left:578.4px;top:250.5px;width:28px;height:28px;border-radius:50%;background:rgba(12,156,252,.12)"><svg class="a" style="left:8.500px;top:8.500px;width:11px;height:11px" viewBox="0 0 12 12" fill="#0c9cfc" fill-opacity=".85"><path d="M1.500 8.200 7.600 2.100l2.300 2.300L3.800 10.500H1.500zM8.300 1.400l.800-.8a.8.800 0 0 1 1.100 0l1.200 1.200a.8.800 0 0 1 0 1.100l-.8.8z"/></svg></div>
<div class="a" style="left:617.5px;top:250.5px;width:28px;height:28px;border-radius:50%;background:rgba(254,84,155,.12)"><svg class="a" style="left:9px;top:8.500px;width:10px;height:11px" viewBox="0 0 11 12" fill="#fe549b" fill-opacity=".8"><path d="M1.500 3.500h8l-.6 7.300a1 1 0 0 1-1 .9H3.100a1 1 0 0 1-1-.9zM.8 2h9.400v.9H.8zM3.800.6h3.400V2H3.800z"/></svg></div>
<div class="a" style="left:0;top:295.0px;width:668.5px;height:1px;background:#f1f3f6"></div>
<div class="a" style="left:15.899999999999977px;top:314.1px;width:28px;height:28px"><svg width="28" height="28" viewBox="0 0 28 28"><defs><clipPath id="c3e5be8280"><rect width="28" height="28" rx="4.0"/></clipPath></defs><g clip-path="url(#c3e5be8280)"><rect width="28" height="28" fill="#3e5be8"/><path d="M3 29c0-7 4.500-9.500 11-9.500S25 22 25 29z" fill="#f5a623"/><circle cx="14" cy="13.500" r="6.800" fill="#e9a87c"/><path d="M6 15C5 6 9.500 3 14 3s9 3 8 12c-1-3.500-3-6-8-6s-7 2.500-8 6z" fill="#2a1c1a"/></g></svg></div>
<div class="a vc" style="left:52.39999999999998px;top:319.1px;font-size:12.5px;letter-spacing:.35px;color:#212b37;-webkit-text-stroke:.15px #212b37">Gray Noal</div>
<div class="a vc" style="left:52.39999999999998px;top:337.6px;font-size:11.5px;letter-spacing:.25px;color:#7a8fb5">React Developer</div>
<div class="a vc" style="left:197.60000000000002px;top:329.1px;font-size:13.5px;letter-spacing:.4px;color:#3d4a60">Personal</div>
<div class="a vc" style="left:292.4px;top:329.1px;font-size:13.5px;letter-spacing:.4px;color:#3d4a60">2 Days</div>
<div class="a" style="left:369.9px;top:320.1px;width:66px;height:19px;border-radius:4px;background:rgba(251,66,66,0.11);color:#fb4242;font-size:11px;text-align:center;line-height:19px;letter-spacing:.3px;-webkit-text-stroke:.35px #fb4242">Rejected</div>
<div class="a vc" style="left:472.4px;top:329.1px;font-size:12.5px;letter-spacing:.95px;color:#3d4a60">27-05-2024</div>
<div class="a" style="left:578.4px;top:315.6px;width:28px;height:28px;border-radius:50%;background:rgba(12,156,252,.12)"><svg class="a" style="left:8.500px;top:8.500px;width:11px;height:11px" viewBox="0 0 12 12" fill="#0c9cfc" fill-opacity=".85"><path d="M1.500 8.200 7.600 2.100l2.300 2.300L3.800 10.500H1.500zM8.300 1.400l.800-.8a.8.800 0 0 1 1.100 0l1.200 1.200a.8.800 0 0 1 0 1.100l-.8.8z"/></svg></div>
<div class="a" style="left:617.5px;top:315.6px;width:28px;height:28px;border-radius:50%;background:rgba(254,84,155,.12)"><svg class="a" style="left:9px;top:8.500px;width:10px;height:11px" viewBox="0 0 11 12" fill="#fe549b" fill-opacity=".8"><path d="M1.500 3.500h8l-.6 7.300a1 1 0 0 1-1 .9H3.100a1 1 0 0 1-1-.9zM.8 2h9.400v.9H.8zM3.800.6h3.400V2H3.800z"/></svg></div>
<div class="a" style="left:0;top:360.2px;width:668.5px;height:1px;background:#f1f3f6"></div>
<div class="a" style="left:15.899999999999977px;top:379.3px;width:28px;height:28px"><svg width="28" height="28" viewBox="0 0 28 28"><defs><clipPath id="c4a2a2a280"><rect width="28" height="28" rx="4.0"/></clipPath></defs><g clip-path="url(#c4a2a2a280)"><rect width="28" height="28" fill="#4a2a2a"/><path d="M3 29c0-7 4.500-9.500 11-9.500S25 22 25 29z" fill="#c9534a"/><circle cx="14" cy="13.500" r="6.800" fill="#e5aa8a"/><path d="M5.500 22C3.500 9 8 3 14 3s10.500 6 8.500 19c-1.500-5-1.500-11-8.500-11S7 17 5.500 22z" fill="#a4502e"/></g></svg></div>
<div class="a vc" style="left:52.39999999999998px;top:384.3px;font-size:12.5px;letter-spacing:.35px;color:#212b37;-webkit-text-stroke:.15px #212b37">Emiley Jackson</div>
<div class="a vc" style="left:52.39999999999998px;top:402.8px;font-size:11.5px;letter-spacing:.25px;color:#7a8fb5">Full Stack Developer</div>
<div class="a vc" style="left:197.60000000000002px;top:394.3px;font-size:13.5px;letter-spacing:.4px;color:#3d4a60">Maternity</div>
<div class="a vc" style="left:292.4px;top:394.3px;font-size:13.5px;letter-spacing:.4px;color:#3d4a60">2 Days</div>
<div class="a" style="left:369.9px;top:385.3px;width:70px;height:19px;border-radius:4px;background:rgba(33,206,158,0.11);color:#21ce9e;font-size:11px;text-align:center;line-height:19px;letter-spacing:.3px;-webkit-text-stroke:.35px #21ce9e">Approved</div>
<div class="a vc" style="left:472.4px;top:394.3px;font-size:12.5px;letter-spacing:.95px;color:#3d4a60">26-05-2024</div>
<div class="a" style="left:578.4px;top:380.8px;width:28px;height:28px;border-radius:50%;background:rgba(12,156,252,.12)"><svg class="a" style="left:8.500px;top:8.500px;width:11px;height:11px" viewBox="0 0 12 12" fill="#0c9cfc" fill-opacity=".85"><path d="M1.500 8.200 7.600 2.100l2.300 2.300L3.800 10.500H1.500zM8.300 1.400l.800-.8a.8.800 0 0 1 1.100 0l1.200 1.200a.8.800 0 0 1 0 1.100l-.8.8z"/></svg></div>
<div class="a" style="left:617.5px;top:380.8px;width:28px;height:28px;border-radius:50%;background:rgba(254,84,155,.12)"><svg class="a" style="left:9px;top:8.500px;width:10px;height:11px" viewBox="0 0 11 12" fill="#fe549b" fill-opacity=".8"><path d="M1.500 3.500h8l-.6 7.300a1 1 0 0 1-1 .9H3.100a1 1 0 0 1-1-.9zM.8 2h9.400v.9H.8zM3.800.6h3.400V2H3.800z"/></svg></div>
<div class="a" style="left:0;top:425.4px;width:668.5px;height:1px;background:#f1f3f6"></div>
<div class="a" style="left:15.899999999999977px;top:444.5px;width:28px;height:28px"><svg width="28" height="28" viewBox="0 0 28 28"><defs><clipPath id="cf6c86a280"><rect width="28" height="28" rx="4.0"/></clipPath></defs><g clip-path="url(#cf6c86a280)"><rect width="28" height="28" fill="#f6c86a"/><path d="M3 29c0-7 4.500-9.500 11-9.500S25 22 25 29z" fill="#3f8fd8"/><circle cx="14" cy="13.500" r="6.800" fill="#e9b48c"/><path d="M6 15C5 6 9.500 3 14 3s9 3 8 12c-1-3.500-3-6-8-6s-7 2.500-8 6z" fill="#3a2a22"/></g></svg></div>
<div class="a vc" style="left:52.39999999999998px;top:449.5px;font-size:12.5px;letter-spacing:.35px;color:#212b37;-webkit-text-stroke:.15px #212b37">Pope Johnson</div>
<div class="a vc" style="left:52.39999999999998px;top:468.0px;font-size:11.5px;letter-spacing:.25px;color:#7a8fb5">Jr.Java Developer</div>
<div class="a vc" style="left:197.60000000000002px;top:459.5px;font-size:13.5px;letter-spacing:.4px;color:#3d4a60">Gifted</div>
<div class="a vc" style="left:292.4px;top:459.5px;font-size:13.5px;letter-spacing:.4px;color:#3d4a60">2 Days</div>
<div class="a" style="left:369.9px;top:450.5px;width:63px;height:19px;border-radius:4px;background:rgba(255,154,19,0.11);color:#ff9a13;font-size:11px;text-align:center;line-height:19px;letter-spacing:.3px;-webkit-text-stroke:.35px #ff9a13">Pending</div>
<div class="a vc" style="left:472.4px;top:459.5px;font-size:12.5px;letter-spacing:.95px;color:#3d4a60">25-05-2024</div>
<div class="a" style="left:578.4px;top:446.0px;width:28px;height:28px;border-radius:50%;background:rgba(12,156,252,.12)"><svg class="a" style="left:8.500px;top:8.500px;width:11px;height:11px" viewBox="0 0 12 12" fill="#0c9cfc" fill-opacity=".85"><path d="M1.500 8.200 7.600 2.100l2.300 2.300L3.800 10.500H1.500zM8.300 1.400l.800-.8a.8.800 0 0 1 1.100 0l1.200 1.200a.8.800 0 0 1 0 1.100l-.8.8z"/></svg></div>
<div class="a" style="left:617.5px;top:446.0px;width:28px;height:28px;border-radius:50%;background:rgba(254,84,155,.12)"><svg class="a" style="left:9px;top:8.500px;width:10px;height:11px" viewBox="0 0 11 12" fill="#fe549b" fill-opacity=".8"><path d="M1.500 3.500h8l-.6 7.300a1 1 0 0 1-1 .9H3.100a1 1 0 0 1-1-.9zM.8 2h9.400v.9H.8zM3.800.6h3.400V2H3.800z"/></svg></div>
</div>
<div class="card" style="left:954.5px;top:913px;width:530px;height:489.5px">
<div class="ctitle" style="top:30.200000000000045px">Today's Interviews</div>
<div class="btnl" style="left:448.5px;top:16.299999999999955px;width:63.8px">View All</div>
<div class="a" style="left:19.200000000000045px;top:70.8px;width:34px;height:34px"><svg width="34" height="34" viewBox="0 0 28 28"><defs><clipPath id="c3355e0341"><rect width="28" height="28" rx="14.0"/></clipPath></defs><g clip-path="url(#c3355e0341)"><rect width="28" height="28" fill="#3355e0"/><path d="M3 29c0-7 4.500-9.500 11-9.500S25 22 25 29z" fill="#f5a623"/><circle cx="14" cy="13.500" r="6.800" fill="#e9a27a"/><path d="M6 15C5 6 9.500 3 14 3s9 3 8 12c-1-3.500-3-6-8-6s-7 2.500-8 6z" fill="#2a1c1a"/></g></svg></div>
<div class="a vc" style="left:67.89999999999998px;top:80.1px;font-size:14px;letter-spacing:.45px;color:#212b37">Anurag Batiya</div>
<svg class="a" style="left:68.60000000000002px;top:92.8px;width:10px;height:10px" viewBox="0 0 10 10" fill="none" stroke="#7a8fb5" stroke-width="1.200"><circle cx="5" cy="5" r="4"/><path d="M5 2.800V5l1.500 1"/></svg>
<div class="a vc" style="left:83.0px;top:97.8px;font-size:11.5px;letter-spacing:.42px;color:#7a8fb5">03 May(9.00am-10.00am)</div>
<div class="a" style="left:443.5px;top:73.3px;width:70.1px;height:30px;border-radius:5px;background:#5c67f7;color:#fff;font-size:12.5px;font-weight:700;text-align:center;line-height:30px;letter-spacing:.2px">Call Now</div>
<div class="a" style="left:19.200000000000045px;top:132.0px;width:34px;height:34px"><svg width="34" height="34" viewBox="0 0 28 28"><defs><clipPath id="cf9a8c8341"><rect width="28" height="28" rx="14.0"/></clipPath></defs><g clip-path="url(#cf9a8c8341)"><rect width="28" height="28" fill="#f9a8c8"/><path d="M3 29c0-7 4.500-9.500 11-9.500S25 22 25 29z" fill="#c03a5a"/><circle cx="14" cy="13.500" r="6.800" fill="#e5aa8a"/><path d="M5.500 22C3.500 9 8 3 14 3s10.500 6 8.500 19c-1.500-5-1.500-11-8.500-11S7 17 5.500 22z" fill="#4a2a22"/></g></svg></div>
<div class="a vc" style="left:67.89999999999998px;top:141.3px;font-size:14px;letter-spacing:.45px;color:#212b37">Project Meeting</div>
<svg class="a" style="left:68.60000000000002px;top:154.0px;width:10px;height:10px" viewBox="0 0 10 10" fill="none" stroke="#7a8fb5" stroke-width="1.200"><circle cx="5" cy="5" r="4"/><path d="M5 2.800V5l1.500 1"/></svg>
<div class="a vc" style="left:83.0px;top:159.0px;font-size:11.5px;letter-spacing:.42px;color:#7a8fb5">04 May(9.00am-10.00am)</div>
<div class="a" style="left:443.5px;top:134.5px;width:70.1px;height:30px;border-radius:5px;background:#5c67f7;color:#fff;font-size:12.5px;font-weight:700;text-align:center;line-height:30px;letter-spacing:.2px">Call Now</div>
<div class="a" style="left:19.200000000000045px;top:193.2px;width:34px;height:34px"><svg width="34" height="34" viewBox="0 0 28 28"><defs><clipPath id="ccfd2d8341"><rect width="28" height="28" rx="14.0"/></clipPath></defs><g clip-path="url(#ccfd2d8341)"><rect width="28" height="28" fill="#cfd2d8"/><path d="M3 29c0-7 4.500-9.500 11-9.500S25 22 25 29z" fill="#5a5f70"/><circle cx="14" cy="13.500" r="6.800" fill="#e0b090"/><path d="M5.500 22C3.500 9 8 3 14 3s10.500 6 8.500 19c-1.500-5-1.500-11-8.500-11S7 17 5.500 22z" fill="#3a3038"/></g></svg></div>
<div class="a vc" style="left:67.89999999999998px;top:202.5px;font-size:14px;letter-spacing:.45px;color:#212b37">Team Meeting</div>
<svg class="a" style="left:68.60000000000002px;top:215.2px;width:10px;height:10px" viewBox="0 0 10 10" fill="none" stroke="#7a8fb5" stroke-width="1.200"><circle cx="5" cy="5" r="4"/><path d="M5 2.800V5l1.500 1"/></svg>
<div class="a vc" style="left:83.0px;top:220.2px;font-size:11.5px;letter-spacing:.42px;color:#7a8fb5">05 May(9.00am-10.00am)</div>
<div class="a" style="left:443.5px;top:195.7px;width:70.1px;height:30px;border-radius:5px;background:#5c67f7;color:#fff;font-size:12.5px;font-weight:700;text-align:center;line-height:30px;letter-spacing:.2px">Call Now</div>
<div class="a" style="left:19.200000000000045px;top:254.4px;width:34px;height:34px"><svg width="34" height="34" viewBox="0 0 28 28"><defs><clipPath id="cf08a28341"><rect width="28" height="28" rx="14.0"/></clipPath></defs><g clip-path="url(#cf08a28341)"><rect width="28" height="28" fill="#f08a28"/><path d="M3 29c0-7 4.500-9.500 11-9.500S25 22 25 29z" fill="#3a4f78"/><circle cx="14" cy="13.500" r="6.800" fill="#e3a77f"/><path d="M6 15C5 6 9.500 3 14 3s9 3 8 12c-1-3.500-3-6-8-6s-7 2.500-8 6z" fill="#2e1e18"/></g></svg></div>
<div class="a vc" style="left:67.89999999999998px;top:263.7px;font-size:14px;letter-spacing:.45px;color:#212b37">Client Meeting</div>
<svg class="a" style="left:68.60000000000002px;top:276.4px;width:10px;height:10px" viewBox="0 0 10 10" fill="none" stroke="#7a8fb5" stroke-width="1.200"><circle cx="5" cy="5" r="4"/><path d="M5 2.800V5l1.500 1"/></svg>
<div class="a vc" style="left:83.0px;top:281.4px;font-size:11.5px;letter-spacing:.42px;color:#7a8fb5">06 May(9.00am-10.00am)</div>
<div class="a" style="left:443.5px;top:256.9px;width:70.1px;height:30px;border-radius:5px;background:#5c67f7;color:#fff;font-size:12.5px;font-weight:700;text-align:center;line-height:30px;letter-spacing:.2px">Call Now</div>
<div class="a" style="left:19.200000000000045px;top:315.6px;width:34px;height:34px"><svg width="34" height="34" viewBox="0 0 28 28"><defs><clipPath id="cf7b0cc341"><rect width="28" height="28" rx="14.0"/></clipPath></defs><g clip-path="url(#cf7b0cc341)"><rect width="28" height="28" fill="#f7b0cc"/><path d="M3 29c0-7 4.500-9.500 11-9.500S25 22 25 29z" fill="#c03a5a"/><circle cx="14" cy="13.500" r="6.800" fill="#e5aa8a"/><path d="M5.500 22C3.500 9 8 3 14 3s10.500 6 8.500 19c-1.500-5-1.500-11-8.500-11S7 17 5.500 22z" fill="#4a2a22"/></g></svg></div>
<div class="a vc" style="left:67.89999999999998px;top:324.9px;font-size:14px;letter-spacing:.45px;color:#212b37">Client Meeting</div>
<svg class="a" style="left:68.60000000000002px;top:337.6px;width:10px;height:10px" viewBox="0 0 10 10" fill="none" stroke="#7a8fb5" stroke-width="1.200"><circle cx="5" cy="5" r="4"/><path d="M5 2.800V5l1.500 1"/></svg>
<div class="a vc" style="left:83.0px;top:342.6px;font-size:11.5px;letter-spacing:.42px;color:#7a8fb5">06 May(9.00am-10.00am)</div>
<div class="a" style="left:443.5px;top:318.1px;width:70.1px;height:30px;border-radius:5px;background:#5c67f7;color:#fff;font-size:12.5px;font-weight:700;text-align:center;line-height:30px;letter-spacing:.2px">Call Now</div>
<div class="a" style="left:19.200000000000045px;top:376.8px;width:34px;height:34px"><svg width="34" height="34" viewBox="0 0 28 28"><defs><clipPath id="cf0a028341"><rect width="28" height="28" rx="14.0"/></clipPath></defs><g clip-path="url(#cf0a028341)"><rect width="28" height="28" fill="#f0a028"/><path d="M3 29c0-7 4.500-9.500 11-9.500S25 22 25 29z" fill="#50607a"/><circle cx="14" cy="13.500" r="6.800" fill="#e0a478"/><path d="M6 15C5 6 9.500 3 14 3s9 3 8 12c-1-3.500-3-6-8-6s-7 2.500-8 6z" fill="#3a2a20"/></g></svg></div>
<div class="a vc" style="left:67.89999999999998px;top:386.1px;font-size:14px;letter-spacing:.45px;color:#212b37">Team Meeting</div>
<svg class="a" style="left:68.60000000000002px;top:398.8px;width:10px;height:10px" viewBox="0 0 10 10" fill="none" stroke="#7a8fb5" stroke-width="1.200"><circle cx="5" cy="5" r="4"/><path d="M5 2.800V5l1.500 1"/></svg>
<div class="a vc" style="left:83.0px;top:403.8px;font-size:11.5px;letter-spacing:.42px;color:#7a8fb5">05 May(9.00am-10.00am)</div>
<div class="a" style="left:443.5px;top:379.3px;width:70.1px;height:30px;border-radius:5px;background:#5c67f7;color:#fff;font-size:12.5px;font-weight:700;text-align:center;line-height:30px;letter-spacing:.2px">Call Now</div>
<div class="a" style="left:19.200000000000045px;top:438.0px;width:34px;height:34px"><svg width="34" height="34" viewBox="0 0 28 28"><defs><clipPath id="cf6d8cc341"><rect width="28" height="28" rx="14.0"/></clipPath></defs><g clip-path="url(#cf6d8cc341)"><rect width="28" height="28" fill="#f6d8cc"/><path d="M3 29c0-7 4.500-9.500 11-9.500S25 22 25 29z" fill="#b84a40"/><circle cx="14" cy="13.500" r="6.800" fill="#e0a080"/><path d="M5.500 22C3.500 9 8 3 14 3s10.500 6 8.500 19c-1.500-5-1.500-11-8.500-11S7 17 5.500 22z" fill="#3a2420"/></g></svg></div>
<div class="a vc" style="left:67.89999999999998px;top:447.3px;font-size:14px;letter-spacing:.45px;color:#212b37">Project Meeting</div>
<svg class="a" style="left:68.60000000000002px;top:460.0px;width:10px;height:10px" viewBox="0 0 10 10" fill="none" stroke="#7a8fb5" stroke-width="1.200"><circle cx="5" cy="5" r="4"/><path d="M5 2.800V5l1.500 1"/></svg>
<div class="a vc" style="left:83.0px;top:465.0px;font-size:11.5px;letter-spacing:.42px;color:#7a8fb5">04 May(9.00am-10.00am)</div>
<div class="a" style="left:443.5px;top:440.5px;width:70.1px;height:30px;border-radius:5px;background:#5c67f7;color:#fff;font-size:12.5px;font-weight:700;text-align:center;line-height:30px;letter-spacing:.2px">Call Now</div>
</div>
<div class="card" style="left:1508px;top:913px;width:392.8px;height:344px">
<div class="ctitle" style="top:30.200000000000045px">Gender Distribution</div>
<div class="btnl" style="left:311.20000000000005px;top:16.299999999999955px;width:63.8px">View All</div>
<svg class="a" style="left:0;top:0" width="392.8" height="343" viewBox="0 0 392.8 343"><circle cx="197.8" cy="178.8" r="20.7" fill="none" stroke="#eef0f4" stroke-width="1.200"/><circle cx="197.8" cy="178.8" r="41.4" fill="none" stroke="#eef0f4" stroke-width="1.200"/><circle cx="197.8" cy="178.8" r="62.1" fill="none" stroke="#eef0f4" stroke-width="1.200"/><circle cx="197.8" cy="178.8" r="82.8" fill="none" stroke="#eef0f4" stroke-width="1.200"/><circle cx="197.8" cy="178.8" r="103.5" fill="none" stroke="#eef0f4" stroke-width="1.200"/><path d="M197.8 178.8 L197.8 75.3 A103.5 103.5 0 0 1 287.4 230.5 Z" fill="#6b76f8" stroke="#fff" stroke-width="1.5" stroke-linejoin="round"/><path d="M197.8 178.8 L260.5 215.0 A72.4 72.4 0 0 1 135.1 215.0 Z" fill="#e35ad6" stroke="#fff" stroke-width="1.5" stroke-linejoin="round"/><path d="M197.8 178.8 L170.9 194.3 A31.0 31.0 0 0 1 197.8 147.7 Z" fill="#fd6ba6" stroke="#fff" stroke-width="1.5" stroke-linejoin="round"/></svg>
<div class="a" style="left:104.29999999999995px;top:308.8px;width:12px;height:12px;border-radius:50%;background:#5c67f7"></div>
<div class="a vc" style="left:124.5px;top:314.8px;font-size:13px;letter-spacing:.3px;color:#212b37">Total</div>
<div class="a" style="left:164.0999999999999px;top:308.8px;width:12px;height:12px;border-radius:50%;background:#e354d4"></div>
<div class="a vc" style="left:184.5px;top:314.8px;font-size:13px;letter-spacing:.3px;color:#212b37">Male</div>
<div class="a" style="left:224.0999999999999px;top:308.8px;width:12px;height:12px;border-radius:50%;background:#fe549b"></div>
<div class="a vc" style="left:244.0px;top:314.8px;font-size:13px;letter-spacing:.3px;color:#212b37">Female</div>
</div>
<div class="card" style="left:1508px;top:1281px;width:392.8px;height:121.500px">
<div class="a" style="left:60.799999999999955px;top:15.599999999999909px;width:40px;height:40px;border-radius:50%;background:rgba(92,103,247,0.12);border:2px solid rgba(92,103,247,0.28)"><svg class="a" style="left:9px;top:9px;width:18px;height:18px" viewBox="0 0 18 18" fill="none" stroke="#5c67f7" stroke-width="1.400" stroke-linecap="round" stroke-linejoin="round"><path d="M9 2.500 15 5.800 9 9 3 5.800z"/><path d="M3 9 9 12.300 15 9"/><path d="M3 12.200 9 15.500 15 12.200"/></svg></div>
<div class="a vc mut" style="left:20.799999999999955px;width:120px;text-align:center;top:72.59999999999991px;font-size:13.5px;letter-spacing:.5px">Attendance</div>
<div class="a vc b5" style="left:20.799999999999955px;width:120px;text-align:center;top:94.90000000000009px;font-size:19.5px;letter-spacing:.6px;color:#212b37">4,241</div>
<div class="a" style="left:188.70000000000005px;top:15.599999999999909px;width:40px;height:40px;border-radius:50%;background:rgba(227,84,212,0.12);border:2px solid rgba(227,84,212,0.28)"><svg class="a" style="left:9px;top:9px;width:18px;height:18px" viewBox="0 0 18 18" fill="none" stroke="#e354d4" stroke-width="1.400" stroke-linecap="round" stroke-linejoin="round"><rect x="3" y="4" width="12" height="11" rx="1.500"/><path d="M3 7.500h12M6.200 2.500v3M11.800 2.500v3"/><rect x="6" y="9.500" width="2.500" height="2.500"/></svg></div>
<div class="a vc mut" style="left:148.70000000000005px;width:120px;text-align:center;top:72.59999999999991px;font-size:13.5px;letter-spacing:.5px">Absent</div>
<div class="a vc b5" style="left:148.70000000000005px;width:120px;text-align:center;top:94.90000000000009px;font-size:19.5px;letter-spacing:.6px;color:#212b37">485</div>
<div class="a" style="left:302.70000000000005px;top:15.599999999999909px;width:40px;height:40px;border-radius:50%;background:rgba(254,84,155,0.12);border:2px solid rgba(254,84,155,0.28)"><svg class="a" style="left:9px;top:9px;width:18px;height:18px" viewBox="0 0 18 18" fill="none" stroke="#fe549b" stroke-width="1.400" stroke-linecap="round" stroke-linejoin="round"><circle cx="9" cy="9" r="6.200"/><path d="M9 5.500V9l2.300 1.300"/></svg></div>
<div class="a vc mut" style="left:262.70000000000005px;width:120px;text-align:center;top:72.59999999999991px;font-size:13.5px;letter-spacing:.5px">Late</div>
<div class="a vc b5" style="left:262.70000000000005px;width:120px;text-align:center;top:94.90000000000009px;font-size:19.5px;letter-spacing:.6px;color:#212b37">08</div>
</div>
<div class="card" style="left:262px;top:1427px;width:1638.8px;height:60px"></div>
</div>
</body>
</html>
